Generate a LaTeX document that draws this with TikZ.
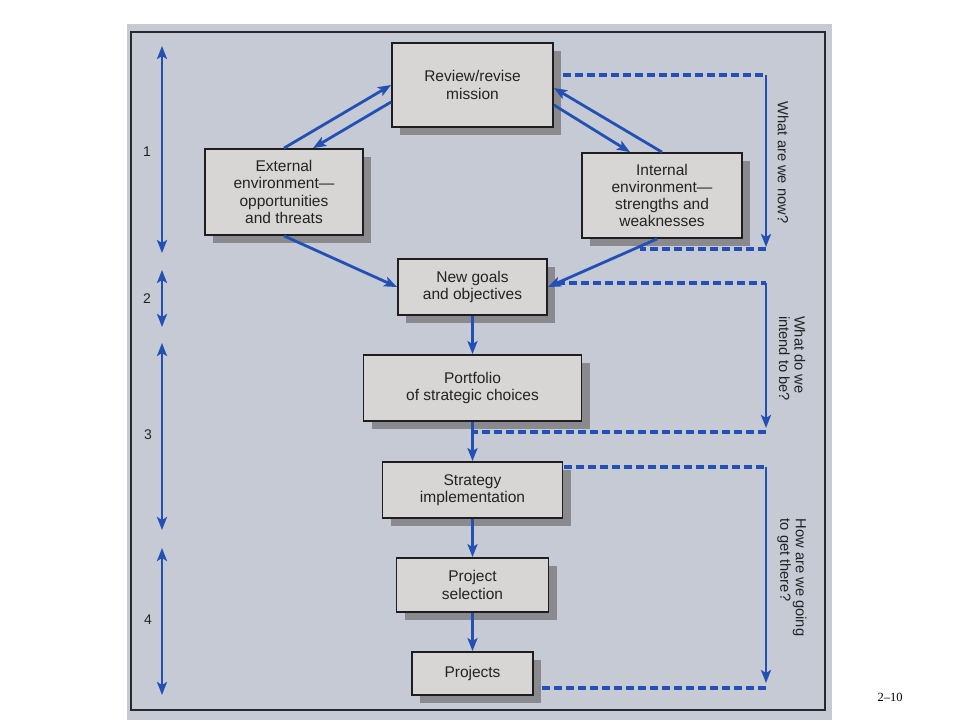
\documentclass[tikz,border=0pt]{standalone}
\usepackage{fontspec}
\setmainfont{Liberation Sans}
\newfontfamily\pagefont{Liberation Serif}
\usetikzlibrary{arrows.meta,shadows,calc}
\definecolor{bblue}{RGB}{34,80,180}
\definecolor{pagebg}{RGB}{197,202,212}
\definecolor{boxfill}{RGB}{216,214,212}
\definecolor{shadowgray}{RGB}{138,138,142}
\definecolor{boxline}{RGB}{30,30,32}
\definecolor{framecol}{RGB}{40,40,45}
\definecolor{inkgray}{RGB}{35,35,38}
\begin{document}
\begin{tikzpicture}[x=1pt,y=-1pt,
  boxnode/.style={draw=boxline, line width=1.8pt, fill=boxfill, inner sep=0pt, align=center,
    text=inkgray, font=\fontsize{15.5}{17.3}\selectfont,
    drop shadow={shadow xshift=8pt, shadow yshift=-8pt, fill=shadowgray, opacity=1}},
  barrow/.style={draw=bblue, line width=2.8pt, -{Stealth[length=13pt,width=10pt,inset=3pt]}},
  bboth/.style={draw=bblue, line width=2.8pt, {Stealth[length=13pt,width=10pt,inset=3pt]}-{Stealth[length=13pt,width=10pt,inset=3pt]}},
  dashline/.style={draw=bblue, line width=3.1pt, dash pattern=on 8pt off 4pt},
  sidelabel/.style={rotate=-90, align=left, text=inkgray, font=\fontsize{14.7}{15.5}\selectfont, inner sep=0pt},
  numlabel/.style={text=inkgray, font=\fontsize{14}{14}\selectfont, inner sep=0pt}]
\useasboundingbox (0,0) rectangle (960,720);
\fill[white] (0,0) rectangle (960,720);
\fill[pagebg] (127,24) rectangle (832,720);
\draw[framecol, line width=1.6pt] (131,32) rectangle (825,710);

% boxes
\node[boxnode, minimum width=161, minimum height=84] (rev) at (472.5,85) {Review/revise\\mission};
\node[boxnode, minimum width=158, minimum height=86] (ext) at (284,192) {External\\environment—\\opportunities\\and threats};
\node[boxnode, minimum width=160, minimum height=85] (int) at (662,195.5) {Internal\\environment—\\strengths and\\weaknesses};
\node[boxnode, minimum width=149, minimum height=56] (ng) at (472.5,287) {New goals\\and objectives};
\node[boxnode, minimum width=218, minimum height=66] (port) at (472.5,388) {Portfolio\\of strategic choices};
\node[boxnode, minimum width=180, minimum height=56] (strat) at (472.5,490) {Strategy\\implementation};
\node[boxnode, minimum width=152, minimum height=54] (psel) at (472.5,585) {Project\\selection};
\node[boxnode, minimum width=121, minimum height=43] (proj) at (472.5,673.5) {Projects};

% diagonal arrows
\draw[barrow] (ext.north) -- (rev.west);
\draw[barrow] ($(rev.west)+(0,17)$) -- ($(ext.north)+(29,0)$);
\draw[barrow] ($(rev.east)+(0,20)$) -- ($(int.north)+(-32,0)$);
\draw[barrow] (int.north) -- ($(rev.east)+(0,3)$);
\draw[barrow] (ext.south) -- (ng.west);
\draw[barrow] ($(int.south)+(-5,0)$) -- (ng.east);

% central arrows
\draw[barrow] (ng.south) -- (ng.south |- port.north);
\draw[barrow] (port.south) -- (port.south |- strat.north);
\draw[barrow] (strat.south) -- (strat.south |- psel.north);
\draw[barrow] (psel.south) -- (psel.south |- proj.north);

% right feedback loops
\coordinate (c1a) at (766,75);
\coordinate (c1b) at (766,249);
\coordinate (c1c) at (640,249);
\draw[dashline] ($(rev.east)+(9,-10)$) -- (c1a);
\draw[barrow] (c1a) -- ($(c1b)+(0,-2)$);
\draw[dashline] (c1b) -- (c1c);

\coordinate (c2a) at (766,283);
\coordinate (c2b) at (766,432);
\coordinate (c2c) at (472.5,432);
\draw[dashline] ($(ng.east)+(9,-4)$) -- (c2a);
\draw[barrow] (c2a) -- ($(c2b)+(0,-4)$);
\draw[dashline] (c2b) -- (c2c);

\coordinate (c3a) at (766,467);
\coordinate (c3b) at (766,688);
\coordinate (c3c) at (538,688);
\draw[dashline] ($(strat.east)+(1,-23)$) -- (c3a);
\draw[barrow] (c3a) -- ($(c3b)+(0,-5)$);
\draw[dashline] (c3b) -- (c3c);

% side labels
\node[sidelabel] (q1) at (783,162.5) {What are we now?};
\node[sidelabel] (q2) at (792,358.5) {What do we\\intend to be?};
\node[sidelabel] (q3) at (792,577.5) {How are we going\\to get there?};

% left phase arrows
\coordinate (l1a) at (162,46);  \coordinate (l1b) at (162,253);
\coordinate (l2a) at (162,270); \coordinate (l2b) at (162,327);
\coordinate (l3a) at (162,343); \coordinate (l3b) at (162,530);
\coordinate (l4a) at (162,548); \coordinate (l4b) at (162,695);
\draw[bboth] (l1a) -- (l1b);
\draw[bboth] (l2a) -- (l2b);
\draw[bboth] (l3a) -- (l3b);
\draw[bboth] (l4a) -- (l4b);
\node[numlabel] (n1) at (147,152) {1};
\node[numlabel] (n2) at (147,299) {2};
\node[numlabel] (n3) at (148,435) {3};
\node[numlabel] (n4) at (148,620) {4};

% page number
\node[font=\pagefont\fontsize{12.5}{12.5}\selectfont, inner sep=0pt] (pg) at (890,697) {2–10};
\end{tikzpicture}
\end{document}
